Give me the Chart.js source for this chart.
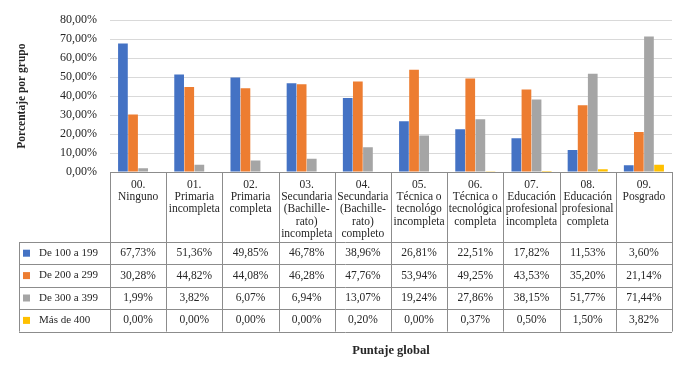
<!DOCTYPE html>
<html>
<head>
<meta charset="utf-8">
<script src="https://cdn.jsdelivr.net/npm/chart.js@4.4.1/dist/chart.umd.min.js"></script>
<style>
  html, body { margin: 0; padding: 0; background: #fff; }
  #wrap { width: 683px; height: 369px; }
</style>
</head>
<body>
<div id="wrap"><canvas id="chart" width="683" height="369"></canvas></div>
<script>
// categories (header of the data table), one array of lines each
const categories = [
  ['00.', 'Ninguno'],
  ['01.', 'Primaria', 'incompleta'],
  ['02.', 'Primaria', 'completa'],
  ['03.', 'Secundaria', '(Bachille-', 'rato)', 'incompleta'],
  ['04.', 'Secundaria', '(Bachille-', 'rato)', 'completo'],
  ['05.', 'Técnica o', 'tecnológo', 'incompleta'],
  ['06.', 'Técnica o', 'tecnológica', 'completa'],
  ['07.', 'Educación', 'profesional', 'incompleta'],
  ['08.', 'Educación', 'profesional', 'completa'],
  ['09.', 'Posgrado']
];

const seriesNames = ['De 100 a 199', 'De 200 a 299', 'De 300 a 399', 'Más de 400'];
const seriesColors = ['#4472C4', '#ED7D31', '#A5A5A5', '#FFC000'];

const de100a199 = [67.73, 51.36, 49.85, 46.78, 38.96, 26.81, 22.51, 17.82, 11.53, 3.60];
const de200a299 = [30.28, 44.82, 44.08, 46.28, 47.76, 53.94, 49.25, 43.53, 35.20, 21.14];
const de300a399 = [1.99, 3.82, 6.07, 6.94, 13.07, 19.24, 27.86, 38.15, 51.77, 71.44];
const mas400 = [0.00, 0.00, 0.00, 0.00, 0.20, 0.00, 0.37, 0.50, 1.50, 3.82];

const allSeries = [de100a199, de200a299, de300a399, mas400];

const yMin = 0, yMax = 80, yStep = 10;

const FONT = "'Liberation Serif', 'DejaVu Serif', serif";
const TEXT = '#262626';

const fmt = v => v.toFixed(2).replace('.', ',') + '%';

// draws the data table under the plot, using the x scale for the columns
const dataTable = {
  id: 'dataTable',
  afterDraw(chart) {
    const ctx = chart.ctx;
    const area = chart.chartArea;
    const xs = chart.scales.x;
    const n = categories.length;
    const colW = (area.right - area.left) / n;
    const top = area.bottom;
    const headH = 70;
    const rowH = 22.4;
    const rowsTop = top + headH;
    const bottom = rowsTop + rowH * allSeries.length;
    const tableLeft = 19;

    ctx.save();
    ctx.strokeStyle = '#8c8c8c';
    ctx.lineWidth = 1;
    ctx.beginPath();
    // top border of header
    ctx.moveTo(area.left, top + 0.5);
    ctx.lineTo(area.right, top + 0.5);
    // row borders
    for (let r = 0; r <= allSeries.length; r++) {
      const y = Math.round(rowsTop + r * rowH) + 0.5;
      ctx.moveTo(tableLeft, y);
      ctx.lineTo(area.right, y);
    }
    // vertical lines
    for (let i = 0; i <= n; i++) {
      const x = Math.round(area.left + i * colW) + 0.5;
      ctx.moveTo(x, top);
      ctx.lineTo(x, bottom);
    }
    ctx.moveTo(tableLeft + 0.5, rowsTop);
    ctx.lineTo(tableLeft + 0.5, bottom);
    ctx.stroke();

    ctx.fillStyle = TEXT;
    ctx.font = '11.5px ' + FONT;
    ctx.textAlign = 'center';
    ctx.textBaseline = 'middle';

    // header
    categories.forEach((lines, i) => {
      const cx = xs.getPixelForValue(i);
      lines.forEach((line, k) => {
        ctx.fillText(line, cx, top + 13 + k * 12.2);
      });
    });

    // rows
    allSeries.forEach((vals, r) => {
      const cy = rowsTop + r * rowH + rowH / 2;
      ctx.fillStyle = seriesColors[r];
      ctx.fillRect(tableLeft + 4, cy - 3.5, 7, 7);
      ctx.fillStyle = TEXT;
      ctx.textAlign = 'left';
      ctx.font = '11px ' + FONT;
      ctx.fillText(seriesNames[r], tableLeft + 20, cy);
      ctx.textAlign = 'center';
      ctx.font = '11.5px ' + FONT;
      vals.forEach((v, i) => {
        ctx.fillText(fmt(v), xs.getPixelForValue(i), cy);
      });
    });
    ctx.restore();
  }
};

const ctx = document.getElementById('chart').getContext('2d');

new Chart(ctx, {
  type: 'bar',
  data: {
    labels: categories.map(c => c.join(' ')),
    datasets: allSeries.map((vals, i) => ({
      label: seriesNames[i],
      data: vals,
      backgroundColor: seriesColors[i],
      barPercentage: 0.96,
      categoryPercentage: 0.72
    }))
  },
  options: {
    responsive: false,
    animation: false,
    layout: { padding: { top: 12, right: 11, bottom: 0, left: 0 } },
    plugins: {
      legend: { display: false },
      tooltip: { enabled: false }
    },
    scales: {
      x: {
        grid: { display: false, drawTicks: false },
        border: { display: false },
        ticks: { display: false },
        title: {
          display: true,
          text: 'Puntaje global',
          color: TEXT,
          font: { family: FONT, size: 12.5, weight: 'bold' },
          padding: { top: 0, bottom: 11 }
        },
        afterFit: scale => { scale.height = 197; }
      },
      y: {
        min: yMin,
        max: yMax,
        grid: { color: '#d9d9d9', drawTicks: false },
        border: { display: false },
        ticks: {
          stepSize: yStep,
          padding: 13,
          color: TEXT,
          font: { family: FONT, size: 12 },
          callback: v => fmt(v)
        },
        title: {
          display: true,
          text: 'Porcentaje por grupo',
          color: TEXT,
          font: { family: FONT, size: 11.5, weight: 'bold' },
          padding: { top: 15, bottom: 0 }
        },
        afterFit: scale => { scale.width = 110; }
      }
    }
  },
  plugins: [dataTable]
});
</script>
</body>
</html>
